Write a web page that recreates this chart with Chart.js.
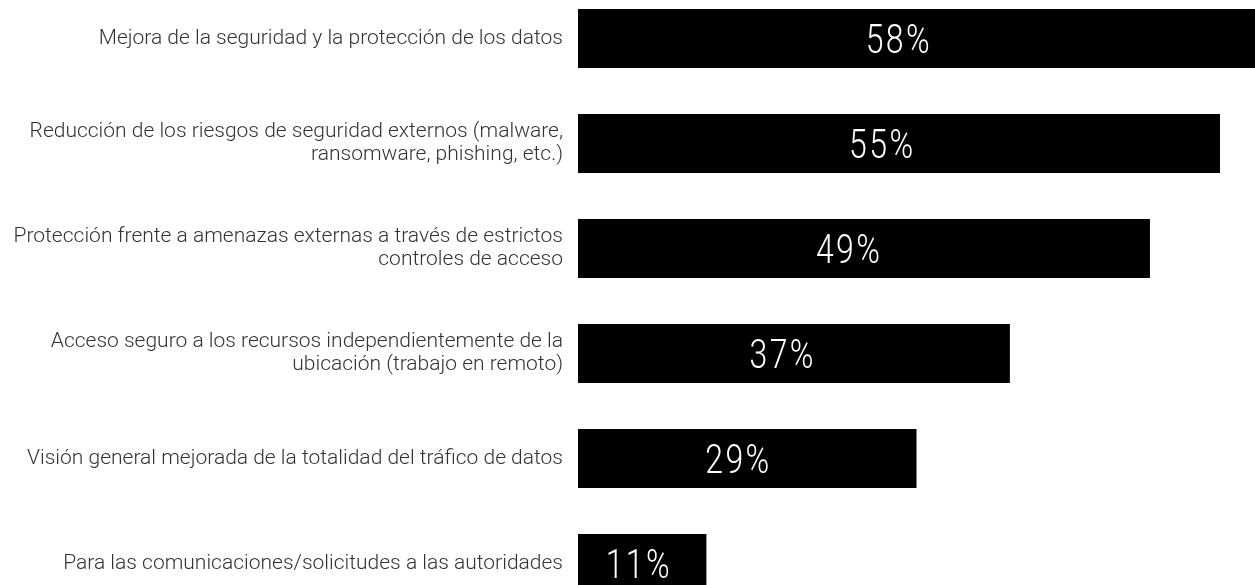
<!DOCTYPE html>
<html lang="es">
<head>
<meta charset="utf-8">
<title>Beneficios</title>
<script src="https://cdn.jsdelivr.net/npm/chart.js@4.4.1/dist/chart.umd.min.js"></script>
<style>
    html, body {
        margin: 0;
        padding: 0;
        background: #ffffff;
        overflow: hidden;
        width: 1255px;
        height: 585px;
    }
    #benefitsChart {
        position: absolute;
        left: 0;
        top: -14px;
    }
</style>
</head>
<body>
<canvas id="benefitsChart" width="1255" height="630"></canvas>
<script>
// Categories and values (percent of respondents)
const categories = [
    ['Mejora de la seguridad y la protección de los datos'],
    ['Reducción de los riesgos de seguridad externos (malware,', 'ransomware, phishing, etc.)'],
    ['Protección frente a amenazas externas a través de estrictos', 'controles de acceso'],
    ['Acceso seguro a los recursos independientemente de la', 'ubicación (trabajo en remoto)'],
    ['Visión general mejorada de la totalidad del tráfico de datos'],
    ['Para las comunicaciones/solicitudes a las autoridades']
];
const values = [58, 55, 49, 37, 29, 11];
const valueLabels = ['58%', '55%', '49%', '37%', '29%', '11%'];

// Draws the percentage inside each bar, in a narrow white face
const barValuePlugin = {
    id: 'barValues',
    afterDatasetsDraw(chart) {
        const ctx = chart.ctx;
        const meta = chart.getDatasetMeta(0);
        meta.data.forEach((bar, i) => {
            const x = bar.base + (bar.x - bar.base) * 0.474;
            ctx.save();
            ctx.translate(x, bar.y + 14);
            ctx.scale(0.8, 1);
            ctx.fillStyle = '#ffffff';
            ctx.font = '300 40px Roboto';
            ctx.letterSpacing = '3px';
            ctx.textAlign = 'center';
            ctx.textBaseline = 'alphabetic';
            ctx.fillText(valueLabels[i], 0, 0);
            ctx.restore();
        });
    }
};

const ctx = document.getElementById('benefitsChart').getContext('2d');
new Chart(ctx, {
    type: 'bar',
    data: {
        labels: categories,
        datasets: [{
            data: values,
            backgroundColor: '#000000',
            borderWidth: 0,
            barPercentage: 0.562,
            categoryPercentage: 1
        }]
    },
    options: {
        indexAxis: 'y',
        responsive: false,
        animation: false,
        layout: { padding: 0 },
        scales: {
            x: {
                display: false,
                min: 0,
                max: 58
            },
            y: {
                grid: { display: false, drawTicks: false },
                border: { display: false },
                afterFit: function(scale) {
                    // fixed label column; no extra room for the outer labels
                    scale.width = 578;
                    scale.paddingTop = 0;
                    scale.paddingBottom = 0;
                },
                ticks: {
                    color: '#333333',
                    padding: 15,
                    font: {
                        family: 'Roboto',
                        size: 21,
                        weight: '300',
                        lineHeight: 1.1
                    }
                }
            }
        },
        plugins: {
            legend: { display: false },
            tooltip: { enabled: false }
        }
    },
    plugins: [barValuePlugin]
});
</script>
</body>
</html>
